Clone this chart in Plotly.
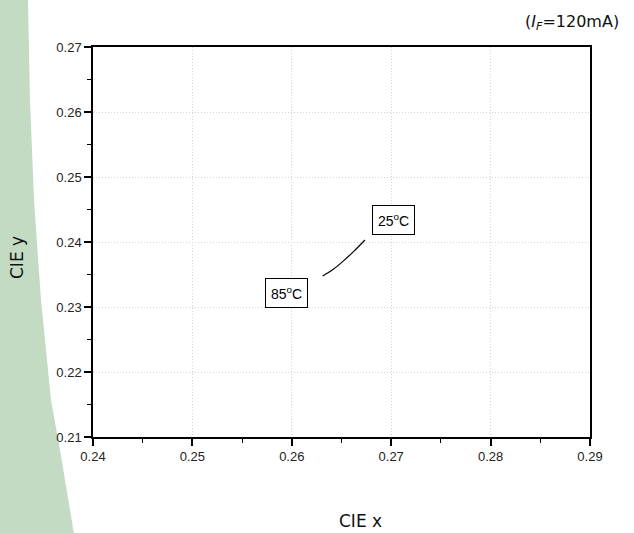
import plotly.graph_objects as go

# Chromaticity shift of the LED between 85°C and 25°C at I_F = 120 mA
cie_x = [0.26311, 0.26417, 0.26520, 0.26626, 0.26736]
cie_y = [0.23477, 0.23580, 0.23710, 0.23860, 0.24031]

temp_labels = ["25<sup>o</sup>C", "85<sup>o</sup>C"]
label_x = [0.27028, 0.25942]
label_y = [0.24338, 0.23208]

x_range = [0.24, 0.29]
y_range = [0.21, 0.27]
x_ticks = [0.24, 0.25, 0.26, 0.27, 0.28, 0.29]
y_ticks = [0.21, 0.22, 0.23, 0.24, 0.25, 0.26, 0.27]

W, H = 634, 533
L, R, T, B = 93, 44, 47, 96
pw, ph = W - L - R, H - T - B


def px(x, y):
    """Convert page pixel position to paper coordinates."""
    return (x - L) / pw, (H - B - y) / ph


fig = go.Figure()
fig.add_trace(go.Scatter(
    x=cie_x, y=cie_y, mode="lines",
    line=dict(color="black", width=1.2, shape="spline", smoothing=0.8),
    hoverinfo="skip", showlegend=False,
))

# green decorative band down the left edge of the page
edge = [(-20, -20), (28, -20), (28, 0), (30, 100), (34, 200), (41, 300),
        (51, 400), (60, 450), (75, 540), (-20, 540)]
pts = [px(a, b) for a, b in edge]
path = "M " + " L ".join(f"{a:.4f},{b:.4f}" for a, b in pts) + " Z"
shapes = [dict(type="path", xref="paper", yref="paper", path=path,
               fillcolor="#c3dac3", line=dict(width=0), layer="below")]

annotations = []
for t, ax_, ay_ in zip(temp_labels, label_x, label_y):
    annotations.append(dict(
        x=ax_, y=ay_, xref="x", yref="y", text=t, showarrow=False,
        font=dict(family="Arial, Liberation Sans", size=14, color="black"),
        bgcolor="white", bordercolor="black", borderwidth=1, borderpad=5,
    ))

title_font = dict(family="DejaVu Sans", size=17, color="#111")
annotations += [
    dict(text="CIE x", xref="paper", yref="paper", x=px(360, 0)[0], y=px(0, 521)[1],
         showarrow=False, font=title_font, xanchor="center", yanchor="middle"),
    dict(text="CIE y", xref="paper", yref="paper", x=px(17, 0)[0], y=px(0, 258)[1],
         showarrow=False, font=title_font, textangle=-90,
         xanchor="center", yanchor="middle"),
    dict(text="(<i>I</i><sub><i>F</i></sub>=120mA)", xref="paper", yref="paper",
         x=px(621, 0)[0], y=px(0, 22)[1], showarrow=False,
         font=dict(family="DejaVu Sans", size=16, color="#111"),
         xanchor="right", yanchor="middle"),
]

axis_common = dict(
    showline=True, linecolor="black", linewidth=1.5, mirror=True,
    ticks="outside", ticklen=7, tickwidth=1.5, tickcolor="black",
    showgrid=True, gridcolor="#d4d4d4", griddash="1px,2px", gridwidth=1,
    zeroline=False,
    tickfont=dict(family="Arial, Liberation Sans", size=13, color="#222"),
    minor=dict(ticks="outside", ticklen=4, tickwidth=1.2, tickcolor="black",
               dtick=0.005, showgrid=False),
)

fig.update_layout(
    width=W, height=H,
    margin=dict(l=L, r=R, t=T, b=B),
    paper_bgcolor="white", plot_bgcolor="white",
    xaxis=dict(range=x_range, tickvals=x_ticks,
               ticktext=[f"{v:.2f}" for v in x_ticks], **axis_common),
    yaxis=dict(range=y_range, tickvals=y_ticks,
               ticktext=[f"{v:.2f}" for v in y_ticks], **axis_common),
    shapes=shapes,
    annotations=annotations,
)

fig.write_html("out.html")
